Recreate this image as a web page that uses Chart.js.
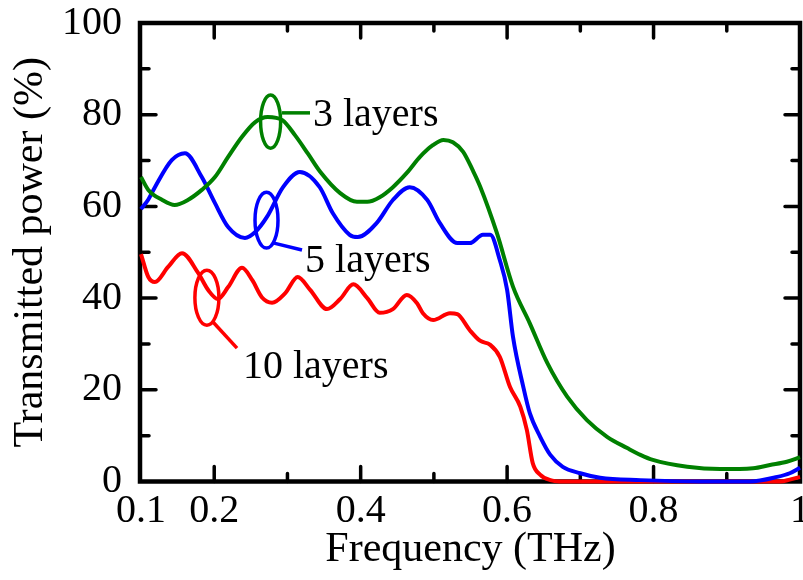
<!DOCTYPE html>
<html>
<head>
<meta charset="utf-8">
<script src="https://cdn.jsdelivr.net/npm/chart.js@4.4.1/dist/chart.umd.min.js"></script>
<style>
	body { margin: 0; background: #fff; }
	canvas { display: block; }
</style>
</head>
<body>
<canvas id="myChart" width="803" height="580"></canvas>
<script>
// 3 layers (green)
var freq3 = [0.100, 0.110, 0.129, 0.146, 0.164, 0.183, 0.201, 0.219, 0.238, 0.256, 0.273, 0.293, 0.310, 0.328, 0.345, 0.372, 0.395, 0.409, 0.426, 0.444, 0.463, 0.481, 0.499, 0.513, 0.526, 0.540, 0.553, 0.563, 0.586, 0.608, 0.631, 0.655, 0.682, 0.709, 0.737, 0.764, 0.782, 0.799, 0.846, 0.891, 0.936, 0.959, 0.982, 1.000];
var trans3 = [66.4, 63.6, 61.4, 60.3, 61.4, 63.6, 66.4, 70.8, 75.2, 78.4, 79.5, 78.8, 75.6, 71.5, 67.5, 62.9, 61.0, 61.0, 62.0, 64.2, 67.3, 70.8, 73.4, 74.5, 74.0, 71.9, 67.9, 64.4, 54.2, 42.5, 34.5, 25.8, 18.5, 13.4, 9.7, 7.3, 5.8, 4.7, 3.2, 2.7, 2.9, 3.6, 4.3, 5.3];

// 5 layers (blue)
var freq5 = [0.100, 0.110, 0.119, 0.142, 0.160, 0.183, 0.201, 0.219, 0.242, 0.256, 0.272, 0.294, 0.317, 0.344, 0.362, 0.385, 0.396, 0.422, 0.444, 0.467, 0.491, 0.508, 0.532, 0.549, 0.567, 0.577, 0.590, 0.600, 0.608, 0.622, 0.631, 0.645, 0.659, 0.676, 0.700, 0.727, 0.782, 0.863, 0.932, 0.969, 0.986, 1.000];
var trans5 = [59.4, 61.5, 64.2, 70.1, 71.6, 66.4, 60.7, 55.5, 53.1, 54.4, 57.7, 64.2, 67.5, 64.2, 58.5, 53.8, 53.3, 56.4, 61.4, 64.2, 61.4, 56.4, 52.0, 52.0, 53.8, 53.8, 48.3, 41.8, 31.6, 20.7, 14.9, 9.8, 5.8, 3.2, 1.8, 0.8, 0.3, 0, 0, 1.0, 1.8, 3.0];

// 10 layers (red)
var freq10 = [0.100, 0.110, 0.119, 0.137, 0.156, 0.178, 0.192, 0.205, 0.219, 0.238, 0.252, 0.265, 0.279, 0.297, 0.314, 0.331, 0.354, 0.372, 0.390, 0.409, 0.426, 0.444, 0.463, 0.477, 0.485, 0.499, 0.522, 0.532, 0.549, 0.563, 0.577, 0.590, 0.604, 0.618, 0.627, 0.635, 0.645, 0.659, 0.672, 0.863, 0.973, 0.986, 1.000];
var trans10 = [49.6, 44.6, 43.5, 46.8, 49.8, 45.5, 41.7, 39.8, 42.4, 46.6, 43.9, 40.2, 39.0, 41.1, 44.6, 41.8, 37.6, 39.8, 43.0, 40.0, 36.8, 37.6, 40.7, 38.9, 36.7, 35.2, 36.7, 36.5, 33.0, 30.7, 29.8, 27.2, 20.6, 16.3, 11.2, 4.0, 1.5, 0.3, 0, 0, 0, 0.4, 1.0];

// 축 눈금
var xTickVals = [0.1, 0.2, 0.4, 0.6, 0.8, 1];
var xTickLabels = ['0.1', '0.2', '0.4', '0.6', '0.8', '1'];
var xMajor = [0.2, 0.4, 0.6, 0.8];
var xMinor = [0.3, 0.5, 0.7, 0.9];
var yTickVals = [0, 20, 40, 60, 80, 100];
var yMajor = [20, 40, 60, 80];
var yMinor = [10, 30, 50, 70, 90];

// 라벨 (ellipse center x, y, radius x, radius y, leader from/to, text pos) in data units
var labelTexts = ['3 layers', '5 layers', '10 layers'];
var labelColors = ['#008000', '#0000ff', '#ff0000'];
var ellipseX = [0.277, 0.2714, 0.190];
var ellipseY = [78.5, 57.0, 40.1];
var ellipseRx = [0.0137, 0.0157, 0.0164];
var ellipseRy = [5.8, 6.1, 6.0];
var leaderFrom = [[0.2926, 80.4], [0.2816, 52.0], [0.1983, 34.8]];
var leaderTo = [[0.3308, 80.4], [0.3199, 50.5], [0.2311, 29.1]];
var textPos = [[0.3349, 77.5], [0.324, 45.7], [0.2393, 22.6]];

var serif = "'Liberation Serif', 'Times New Roman', serif";

function toPoints(xs, ys) {
	var pts = [];
	for (var i = 0; i < xs.length; i++) {
		pts.push({ x: xs[i], y: ys[i] });
	}
	return pts;
}

// 테두리 + 안쪽 눈금
var framePlugin = {
	id: 'frame',
	beforeDatasetsDraw: function(chart) {
		var ctx = chart.ctx;
		var a = chart.chartArea;
		var sx = chart.scales.x;
		var sy = chart.scales.y;
		ctx.save();
		ctx.strokeStyle = '#000';
		ctx.lineCap = 'round';
		ctx.lineWidth = 3.5;
		function tickX(v, len) {
			var px = sx.getPixelForValue(v);
			ctx.beginPath();
			ctx.moveTo(px, a.bottom); ctx.lineTo(px, a.bottom - len);
			ctx.moveTo(px, a.top); ctx.lineTo(px, a.top + len);
			ctx.stroke();
		}
		function tickY(v, len) {
			var py = sy.getPixelForValue(v);
			ctx.beginPath();
			ctx.moveTo(a.left, py); ctx.lineTo(a.left + len, py);
			ctx.moveTo(a.right, py); ctx.lineTo(a.right - len, py);
			ctx.stroke();
		}
		xMajor.forEach(function(v) { tickX(v, 15); });
		xMinor.forEach(function(v) { tickX(v, 8); });
		yMajor.forEach(function(v) { tickY(v, 15); });
		yMinor.forEach(function(v) { tickY(v, 8); });
		ctx.lineWidth = 4.5;
		ctx.lineCap = 'butt';
		ctx.strokeRect(a.left - 1, a.top, a.right - a.left + 1, a.bottom - a.top);
		ctx.restore();
	}
};

// 타원 + 지시선 + 텍스트
var labelPlugin = {
	id: 'layerLabels',
	afterDatasetsDraw: function(chart) {
		var ctx = chart.ctx;
		var sx = chart.scales.x;
		var sy = chart.scales.y;
		ctx.save();
		for (var i = 0; i < labelTexts.length; i++) {
			var cx = sx.getPixelForValue(ellipseX[i]);
			var cy = sy.getPixelForValue(ellipseY[i]);
			var rx = Math.abs(sx.getPixelForValue(ellipseX[i] + ellipseRx[i]) - cx);
			var ry = Math.abs(sy.getPixelForValue(ellipseY[i] + ellipseRy[i]) - cy);
			ctx.strokeStyle = labelColors[i];
			ctx.lineWidth = 3.5;
			ctx.beginPath();
			ctx.ellipse(cx, cy, rx, ry, 0, 0, Math.PI * 2);
			ctx.stroke();

			ctx.beginPath();
			ctx.moveTo(sx.getPixelForValue(leaderFrom[i][0]), sy.getPixelForValue(leaderFrom[i][1]));
			ctx.lineTo(sx.getPixelForValue(leaderTo[i][0]), sy.getPixelForValue(leaderTo[i][1]));
			ctx.stroke();

			ctx.fillStyle = '#000';
			ctx.font = '40px ' + serif;
			ctx.textAlign = 'left';
			ctx.textBaseline = 'alphabetic';
			ctx.fillText(labelTexts[i], sx.getPixelForValue(textPos[i][0]), sy.getPixelForValue(textPos[i][1]));
		}
		ctx.restore();
	}
};

var ctx = document.getElementById('myChart').getContext('2d');
var myChart = new Chart(ctx, {
	type: 'line',
	data: {
		datasets: [{
			label: '3 layers',
			data: toPoints(freq3, trans3),
			borderColor: '#008000',
			borderWidth: 4,
			cubicInterpolationMode: 'monotone',
			clip: false
		}, {
			label: '5 layers',
			data: toPoints(freq5, trans5),
			borderColor: '#0000ff',
			borderWidth: 4,
			cubicInterpolationMode: 'monotone',
			clip: false
		}, {
			label: '10 layers',
			data: toPoints(freq10, trans10),
			borderColor: '#ff0000',
			borderWidth: 4,
			cubicInterpolationMode: 'monotone',
			clip: false
		}]
	},
	options: {
		responsive: false,
		animation: false,
		layout: { padding: { left: 0, right: 3, top: 23, bottom: 0 } },
		elements: { point: { radius: 0 } },
		plugins: {
			legend: { display: false },
			tooltip: { enabled: false }
		},
		scales: {
			x: {
				type: 'linear',
				min: 0.1,
				max: 1,
				border: { display: false },
				grid: { display: false, drawTicks: false },
				afterBuildTicks: function(scale) {
					scale.ticks = xTickVals.map(function(v) { return { value: v }; });
				},
				afterFit: function(scale) {
					scale.height = 98.5;
					scale.paddingLeft = 0;
					scale.paddingRight = 0;
				},
				ticks: {
					color: '#000',
					font: { family: serif, size: 40 },
					padding: 6,
					maxRotation: 0,
					autoSkip: false,
					callback: function(value) {
						var idx = xTickVals.indexOf(value);
						return idx >= 0 ? xTickLabels[idx] : '';
					}
				},
				title: {
					display: true,
					text: 'Frequency (THz)',
					color: '#000',
					font: { family: serif, size: 42 },
					padding: { top: 0, bottom: 5 }
				}
			},
			y: {
				min: 0,
				max: 100,
				border: { display: false },
				grid: { display: false, drawTicks: false },
				afterBuildTicks: function(scale) {
					scale.ticks = yTickVals.map(function(v) { return { value: v }; });
				},
				afterFit: function(scale) {
					scale.width = 141;
					scale.paddingTop = 0;
					scale.paddingBottom = 0;
				},
				ticks: {
					color: '#000',
					font: { family: serif, size: 40 },
					padding: 19,
					autoSkip: false
				},
				title: {
					display: true,
					text: 'Transmitted power (%)',
					color: '#000',
					font: { family: serif, size: 42 },
					padding: { top: 6, bottom: 0 }
				}
			}
		}
	},
	plugins: [framePlugin, labelPlugin]
});
</script>
</body>
</html>
